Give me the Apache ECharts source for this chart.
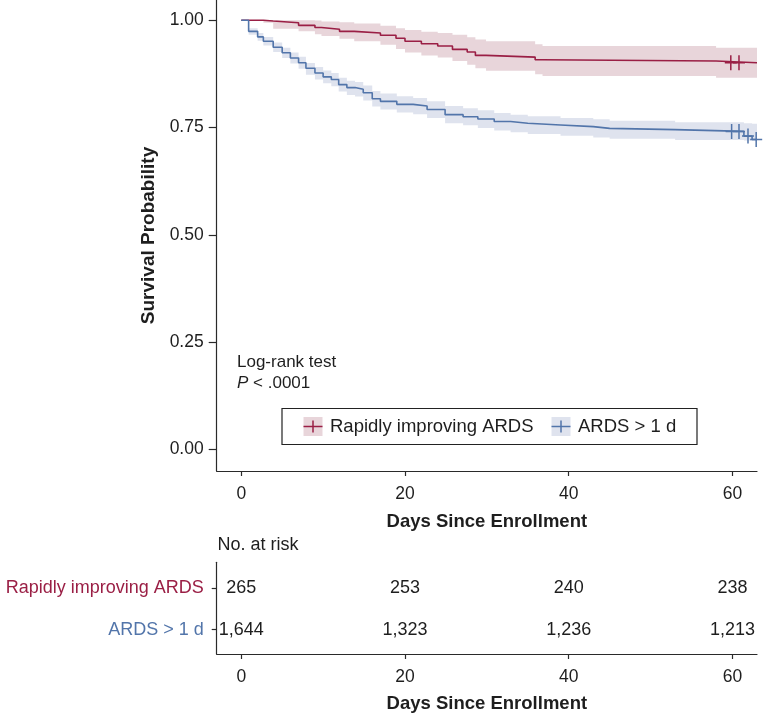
<!DOCTYPE html>
<html>
<head>
<meta http-equiv="Content-Type" content="text/html; charset=utf-8" />
<title>Survival by ARDS group</title>
<style type="text/css">
body{ margin:0; background:#fff; }
#chart{ width:764px; height:714px; }
</style>
</head>
<body>
<div id="chart"></div>
<script src="https://cdn.jsdelivr.net/npm/echarts@6/dist/echarts.min.js"></script>
<script type="text/javascript">
// Kaplan-Meier steps, rapidly improving ARDS
var rapidDays = [0, 2.7, 3.9, 7.0, 9.0, 9.8, 12.0, 13.8, 17.0, 18.9, 20.0, 22.0, 24.0, 25.8, 27.6, 28.6, 29.9, 35.9, 36.8, 58.0, 63.0];
var rapidSurv = [1.000, 0.998, 0.994, 0.988, 0.983, 0.979, 0.974, 0.970, 0.965, 0.958, 0.951, 0.945, 0.940, 0.932, 0.926, 0.918, 0.914, 0.908, 0.905, 0.901, 0.901];
var rapidHi   = [1.000, 1.000, 1.000, 1.000, 0.999, 0.997, 0.995, 0.992, 0.987, 0.981, 0.977, 0.973, 0.970, 0.966, 0.960, 0.955, 0.951, 0.944, 0.940, 0.936, 0.936];
var rapidLo   = [1.000, 0.994, 0.980, 0.974, 0.967, 0.963, 0.957, 0.951, 0.943, 0.933, 0.925, 0.918, 0.913, 0.905, 0.896, 0.888, 0.882, 0.874, 0.870, 0.866, 0.866];
var rapidCensor = [59.8, 60.8];
var rapidCensorSurv = [0.901, 0.901];

// Kaplan-Meier steps, ARDS > 1 d
var longDays = [0, 0.9, 2.0, 2.7, 3.9, 5.0, 6.0, 7.0, 7.9, 9.0, 10.0, 11.0, 11.9, 12.9, 13.9, 14.9, 16.0, 17.0, 19.0, 21.0, 22.7, 24.9, 27.1, 28.9, 30.9, 32.9, 35.0, 39.0, 43.0, 45.0, 53.0, 61.4, 62.4, 63.0];
var longSurv = [1.000, 0.974, 0.961, 0.951, 0.937, 0.924, 0.912, 0.901, 0.888, 0.877, 0.868, 0.862, 0.850, 0.843, 0.839, 0.831, 0.817, 0.811, 0.804, 0.800, 0.792, 0.780, 0.775, 0.770, 0.764, 0.760, 0.756, 0.752, 0.748, 0.745, 0.741, 0.730, 0.722, 0.722];
var longHi   = [1.000, 0.981, 0.970, 0.961, 0.948, 0.936, 0.925, 0.915, 0.900, 0.891, 0.883, 0.877, 0.866, 0.859, 0.856, 0.848, 0.835, 0.829, 0.823, 0.819, 0.811, 0.800, 0.795, 0.790, 0.784, 0.780, 0.776, 0.772, 0.769, 0.766, 0.762, 0.760, 0.759, 0.759];
var longLo   = [1.000, 0.966, 0.952, 0.941, 0.926, 0.912, 0.899, 0.887, 0.873, 0.862, 0.853, 0.846, 0.834, 0.826, 0.822, 0.813, 0.799, 0.792, 0.785, 0.781, 0.772, 0.760, 0.755, 0.749, 0.743, 0.739, 0.735, 0.731, 0.727, 0.724, 0.721, 0.720, 0.720, 0.720];
var longCensor = [59.9, 60.8, 61.9, 62.9];
var longCensorSurv = [0.741, 0.741, 0.730, 0.722];

// number at risk table
var riskDays = [0, 20, 40, 60];
var riskRapid = [265, 253, 240, 238];
var riskLong = [1644, 1323, 1236, 1213];
var groupNames = ['Rapidly improving ARDS', 'ARDS > 1 d'];

var xTicks = [0, 20, 40, 60];
var yTicks = [0, 0.25, 0.5, 0.75, 1];

var RED = '#9a1f45', RED_BAND = '#e8d5da';
var BLUE = '#5275aa', BLUE_BAND = '#dfe3ee';
var FONT = '"Liberation Sans", Arial, sans-serif';
var INK = '#1e1e1e';

function pairs(xs, ys){
    var out = [];
    for (var i = 0; i < xs.length; i++) out.push([xs[i], ys[i]]);
    return out;
}

// stepped confidence band as one polygon
function bandSeries(days, lo, hi, color){
    return {
        type: 'custom', xAxisIndex: 0, yAxisIndex: 0, silent: true, z: 1,
        data: [[0]],
        renderItem: function(params, api){
            var pts = [], i;
            for (i = 0; i < days.length; i++){
                var xn = i < days.length - 1 ? days[i + 1] : days[i];
                pts.push(api.coord([days[i], hi[i]]));
                pts.push(api.coord([xn, hi[i]]));
            }
            for (i = days.length - 1; i >= 0; i--){
                var xn2 = i < days.length - 1 ? days[i + 1] : days[i];
                pts.push(api.coord([xn2, lo[i]]));
                pts.push(api.coord([days[i], lo[i]]));
            }
            return { type: 'polygon', shape: { points: pts }, style: { fill: color, stroke: null } };
        }
    };
}

var plusPath = 'path://M-0.75,-7.5h1.5v15h-1.5zM-6,-0.75h12v1.5h-12z';

function riskData(values, row){
    var out = [];
    for (var i = 0; i < riskDays.length; i++) out.push([riskDays[i], row, values[i]]);
    return out;
}

var chart = echarts.init(document.getElementById('chart'), null, { renderer: 'canvas' });

var axisLineStyle = { color: '#2a2a2a', width: 1.2 };

var option = {
    animation: false,
    textStyle: { fontFamily: FONT },
    grid: [
        { left: 216.7, width: 540.3, top: 0, height: 471 },
        { left: 216.7, width: 540.3, top: 562.3, height: 93.4 }
    ],
    xAxis: [
        {
            type: 'value', gridIndex: 0, min: -3, max: 63,
            name: 'Days Since Enrollment', nameLocation: 'middle', nameGap: 41,
            nameTextStyle: { fontSize: 18.5, fontWeight: 'bold', color: INK, fontFamily: FONT },
            axisLine: { show: true, onZero: false, lineStyle: axisLineStyle },
            axisTick: { show: true, length: 5, customValues: xTicks, lineStyle: axisLineStyle },
            axisLabel: { customValues: xTicks, fontSize: 17.5, color: INK, margin: 14 },
            splitLine: { show: false }
        },
        {
            type: 'value', gridIndex: 1, min: -3, max: 63,
            name: 'Days Since Enrollment', nameLocation: 'middle', nameGap: 40,
            nameTextStyle: { fontSize: 18.5, fontWeight: 'bold', color: INK, fontFamily: FONT },
            axisLine: { show: true, onZero: false, lineStyle: axisLineStyle },
            axisTick: { show: true, length: 5, customValues: xTicks, lineStyle: axisLineStyle },
            axisLabel: { customValues: xTicks, fontSize: 17.5, color: INK, margin: 14 },
            splitLine: { show: false }
        }
    ],
    yAxis: [
        {
            type: 'value', gridIndex: 0, min: -0.05, max: 1.047,
            name: 'Survival Probability', nameLocation: 'middle', nameGap: 53,
            nameTextStyle: { fontSize: 19, fontWeight: 'bold', color: INK, fontFamily: FONT },
            axisLine: { show: true, onZero: false, lineStyle: axisLineStyle },
            axisTick: { show: true, length: 8, customValues: yTicks, lineStyle: axisLineStyle },
            axisLabel: {
                customValues: yTicks, fontSize: 17.5, color: INK, margin: 13,
                formatter: function(v){ return v.toFixed(2); }
            },
            splitLine: { show: false }
        },
        {
            type: 'value', gridIndex: 1, min: 0.42, max: 2.61,
            axisLine: { show: true, onZero: false, lineStyle: axisLineStyle },
            axisTick: { show: true, length: 5, customValues: [1, 2], lineStyle: axisLineStyle },
            axisLabel: {
                customValues: [1, 2], margin: 13,
                formatter: function(v){
                    return v === 2 ? '{r|' + groupNames[0] + '}' : '{b|' + groupNames[1] + '}';
                },
                rich: {
                    r: { color: RED, fontSize: 18, fontFamily: FONT },
                    b: { color: BLUE, fontSize: 18, fontFamily: FONT }
                }
            },
            splitLine: { show: false }
        }
    ],
    series: [
        bandSeries(rapidDays, rapidLo, rapidHi, RED_BAND),
        bandSeries(longDays, longLo, longHi, BLUE_BAND),
        {
            name: groupNames[0], type: 'line', step: 'end', xAxisIndex: 0, yAxisIndex: 0,
            data: pairs(rapidDays, rapidSurv), showSymbol: false, z: 3,
            lineStyle: { color: RED, width: 1.6 }
        },
        {
            name: groupNames[1], type: 'line', step: 'end', xAxisIndex: 0, yAxisIndex: 0,
            data: pairs(longDays, longSurv), showSymbol: false, z: 3,
            lineStyle: { color: BLUE, width: 1.6 }
        },
        {
            type: 'scatter', xAxisIndex: 0, yAxisIndex: 0, z: 4,
            data: pairs(rapidCensor, rapidCensorSurv),
            symbol: plusPath, symbolSize: [12, 15], itemStyle: { color: RED, opacity: 1 }
        },
        {
            type: 'scatter', xAxisIndex: 0, yAxisIndex: 0, z: 4,
            data: pairs(longCensor, longCensorSurv),
            symbol: plusPath, symbolSize: [12, 15], itemStyle: { color: BLUE, opacity: 1 }
        },
        {
            type: 'scatter', xAxisIndex: 1, yAxisIndex: 1,
            data: riskData(riskRapid, 2).concat(riskData(riskLong, 1)),
            symbolSize: 0, itemStyle: { opacity: 1 },
            label: {
                show: true, position: 'inside', fontSize: 18, color: INK, fontFamily: FONT, opacity: 1,
                formatter: function(p){ return p.value[2].toLocaleString('en-US'); }
            }
        }
    ],
    graphic: [
        { type: 'text', left: 237, top: 354, z: 10,
          style: { text: 'Log-rank test', fontSize: 17, fill: INK, fontFamily: FONT } },
        { type: 'text', left: 237, top: 375, z: 10,
          style: { text: '{i|P} < .0001', fontSize: 17, fill: INK, fontFamily: FONT,
                   rich: { i: { fontStyle: 'italic', fontSize: 17, fill: INK, fontFamily: FONT } } } },
        { type: 'rect', z: 10, shape: { x: 282, y: 408.5, width: 415, height: 36 },
          style: { fill: '#fff', stroke: '#222', lineWidth: 1.2 } },
        { type: 'rect', z: 11, shape: { x: 303.5, y: 417, width: 19, height: 19 }, style: { fill: RED_BAND } },
        { type: 'line', z: 12, shape: { x1: 303.5, y1: 426.5, x2: 322.5, y2: 426.5 }, style: { stroke: RED, lineWidth: 1.5 } },
        { type: 'line', z: 12, shape: { x1: 313, y1: 420.5, x2: 313, y2: 432.5 }, style: { stroke: RED, lineWidth: 1.5 } },
        { type: 'text', z: 12, x: 330, y: 426.5,
          style: { text: groupNames[0], fontSize: 18.5, fill: INK, fontFamily: FONT, verticalAlign: 'middle' } },
        { type: 'rect', z: 11, shape: { x: 551.5, y: 417, width: 19, height: 19 }, style: { fill: BLUE_BAND } },
        { type: 'line', z: 12, shape: { x1: 551.5, y1: 426.5, x2: 570.5, y2: 426.5 }, style: { stroke: BLUE, lineWidth: 1.5 } },
        { type: 'line', z: 12, shape: { x1: 561, y1: 420.5, x2: 561, y2: 432.5 }, style: { stroke: BLUE, lineWidth: 1.5 } },
        { type: 'text', z: 12, x: 578, y: 426.5,
          style: { text: groupNames[1], fontSize: 18.5, fill: INK, fontFamily: FONT, verticalAlign: 'middle' } },
        { type: 'text', z: 10, x: 217.5, y: 545,
          style: { text: 'No. at risk', fontSize: 18, fill: INK, fontFamily: FONT, verticalAlign: 'middle' } }
    ]
};

chart.setOption(option);
</script>
</body>
</html>
